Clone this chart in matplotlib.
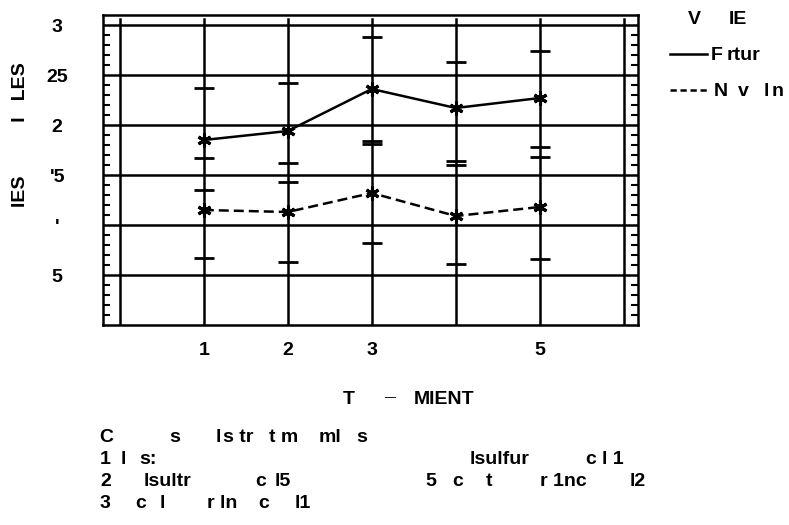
import matplotlib
matplotlib.use('Agg')
import matplotlib.pyplot as plt
from matplotlib.ticker import FixedLocator

plt.rcParams['font.family'] = ['Liberation Sans', 'DejaVu Sans']
plt.rcParams['font.weight'] = 'bold'

# treatment positions and tick labels (text in the source is partly lost)
treatment = [1, 2, 3, 4, 5]
xtick_pos = [1, 2, 3, 4, 5]
xtick_labels = ['1', '2', '3', '', '5']
ytick_pos = [0, 5, 10, 15, 20, 25, 30]
ytick_labels = ['', '5', "'", "'5", '2', '25', '3']

# solid series (F rtur)
solid_mean = [18.5, 19.4, 23.6, 21.7, 22.7]
solid_hi = [23.7, 24.2, 28.8, 26.3, 27.4]
solid_lo = [16.7, 16.2, 18.4, 16.4, 17.8]

# dashed series (N v ln)
dashed_mean = [11.5, 11.3, 13.2, 10.9, 11.8]
dashed_hi = [13.5, 14.3, 18.1, 16.0, 16.8]
dashed_lo = [6.7, 6.3, 8.2, 6.1, 6.6]

W, H = 789, 525
fig = plt.figure(figsize=(W / 100, H / 100), dpi=100)
ax = fig.add_axes([103 / W, 1 - 325 / H, 535 / W, 310 / H])
ax.set_xlim(-0.2, 6.17)
ax.set_ylim(0, 31)

lw = 1.8
for y in ytick_pos[1:]:
    ax.axhline(y, color='black', lw=lw, zorder=1)
for x in range(0, 7):
    ax.plot([x, x], [0, 30.6], color='black', lw=lw, zorder=1)

for s in ax.spines.values():
    s.set_linewidth(lw)

# error marks
for hi, lo in [(solid_hi, solid_lo), (dashed_hi, dashed_lo)]:
    ax.plot(treatment, hi, ls='none', marker='_', ms=14, mew=2, color='black', zorder=3)
    ax.plot(treatment, lo, ls='none', marker='_', ms=14, mew=2, color='black', zorder=3)

ast = (6, 2, 0)
ax.plot(treatment, solid_mean, color='black', lw=lw, marker=ast, ms=10, mew=2.2, zorder=4)
ax.plot(treatment, dashed_mean, color='black', lw=lw, dashes=(4, 2), marker=ast,
        ms=10, mew=2.2, zorder=4)

fs = 14
ax.set_xticks(xtick_pos)
ax.set_xticklabels(xtick_labels, fontsize=fs)
ax.tick_params(axis='x', length=0, pad=12)
ax.set_yticks(ytick_pos)
ax.set_yticklabels(ytick_labels, fontsize=fs, ha='center')
ax.tick_params(axis='y', which='major', length=0, pad=33)
ax.yaxis.set_minor_locator(FixedLocator([v for v in range(1, 30) if v % 5]))
ax.tick_params(axis='y', which='minor', direction='in', length=5, width=1.5,
               left=True, right=True)


def put(x, y, t, **kw):
    fig.text(x / W, 1 - y / H, t, ha='left', va='center', fontsize=fs, **kw)


fig.text(21 / W, 1 - 135 / H, 'IES          I   LES', rotation=90, ha='center',
         va='center', fontsize=fs)

# x label
put(343, 400, 'T')
put(384, 407, '\u00af')
put(414, 400, 'MIENT')

# legend
put(688, 19, 'V')
put(729, 19, 'IE')
fig.add_artist(plt.Line2D([670 / W, 707 / W], [1 - 54 / H] * 2, color='black', lw=lw))
fig.add_artist(plt.Line2D([670 / W, 707 / W], [1 - 90 / H] * 2, color='black', lw=lw,
                          dashes=(2.5, 1.5)))
put(711, 55, 'F')
put(727, 55, 'rtur')
put(714, 91, 'N')
put(738, 91, 'v')
put(764, 91, 'l')
put(772, 91, 'n')

# footnote
notes = [
    (99, 438, 'C'), (169, 438, 's'), (216, 438, 'l'), (223, 438, 's tr'),
    (269, 438, 't m'), (319, 438, 'ml'), (356, 438, 's'),
    (100, 460, '1'), (121, 460, 'l'), (139, 460, 's:'),
    (470, 460, 'lsulfur'), (585, 460, 'c'), (602, 460, 'l 1'),
    (100, 481, '2'), (144, 481, 'lsultr'), (255, 481, 'c'), (275, 481, 'l5'),
    (425, 481, '5'), (452, 481, 'c'), (486, 481, 't'), (540, 481, 'r 1nc'),
    (630, 481, 'l2'),
    (100, 503, '3'), (135, 503, 'c'), (160, 503, 'l'), (207, 503, 'r ln'),
    (258, 503, 'c'), (295, 503, 'l1'),
]
for x, y, t in notes:
    put(x, y, t)

fig.savefig('out.png', dpi=100)
